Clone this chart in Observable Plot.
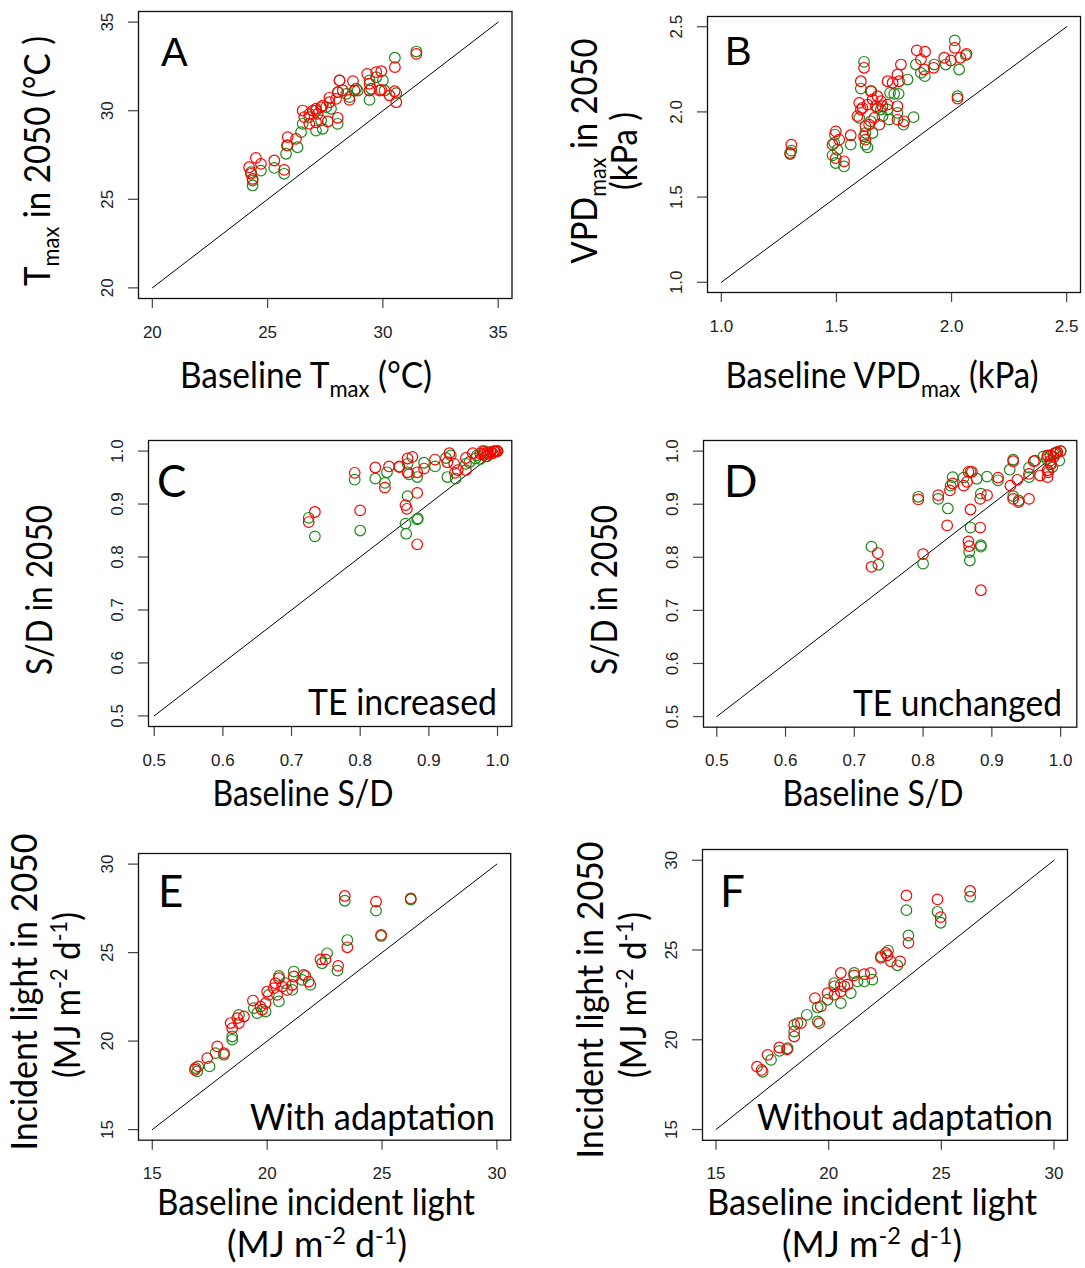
<!DOCTYPE html>
<html><head><meta charset="utf-8">
<script src="https://cdn.jsdelivr.net/npm/d3@7"></script>
<script src="https://cdn.jsdelivr.net/npm/@observablehq/plot@0.6"></script>
<style>
html,body{margin:0;padding:0;background:#fff;}
#root{position:relative;width:1085px;height:1268px;overflow:hidden;background:#fff;}
#root svg{position:absolute;}
</style></head><body><div id="root"></div>
<script>
// ---------- DATA ----------
// Panel A: Tmax (baseline, 2050)
const aTicks = [20, 25, 30, 35];
const aDiag = [20, 35];
const aGreen = [[31.45,33.34],[30.52,32.99],[29.42,31.71],[30.00,31.71],[29.49,31.24],[29.42,30.61],[30.07,31.14],[30.58,30.99],[28.91,31.14],[28.55,30.77],[28.12,31.71],[28.04,31.05],[27.75,30.11],[27.32,29.45],[27.10,28.88],[27.39,28.98],[26.52,29.26],[26.45,28.79],[28.04,29.26],[26.30,27.94],[25.80,27.57],[25.87,28.04],[24.71,26.62],[24.28,26.53],[24.35,26.06],[24.35,25.78],[25.29,26.77],[25.72,26.44],[26.81,29.64],[28.84,31.24],[29.71,31.89],[27.10,30.01],[27.54,30.20],[28.41,30.95]];
const aRed = [[31.45,33.21],[30.52,32.46],[29.32,32.08],[29.71,32.18],[29.93,32.23],[29.42,31.52],[29.93,31.18],[28.70,31.67],[28.77,31.14],[28.55,30.61],[28.12,31.71],[28.06,31.05],[27.97,30.67],[27.68,30.73],[27.39,30.29],[27.10,30.11],[26.96,30.01],[27.17,29.82],[26.81,29.82],[26.52,30.01],[26.59,29.64],[26.81,29.26],[27.10,29.35],[27.61,29.39],[28.04,29.60],[25.87,28.51],[25.84,28.04],[24.49,27.34],[24.71,27.00],[24.20,26.81],[24.28,26.44],[24.35,26.15],[25.29,27.19],[25.72,26.66],[26.23,28.41],[30.51,31.10],[30.29,30.86],[30.58,30.48],[29.86,31.14],[29.42,31.14],[27.68,30.48],[27.32,30.20],[28.26,31.14]];

// Panel B: VPDmax (baseline, 2050)
const bTicks = [1.0, 1.5, 2.0, 2.5];
const bDiag = [1.0, 2.5];
const bGreen = [[1.304,1.773],[1.299,1.753],[1.493,1.867],[1.490,1.818],[1.504,1.778],[1.483,1.745],[1.497,1.700],[1.533,1.680],[1.562,1.808],[1.620,2.294],[1.606,2.137],[1.599,1.965],[1.626,1.808],[1.635,1.792],[1.626,1.876],[1.652,2.122],[1.657,1.876],[1.693,2.014],[1.722,2.014],[1.729,1.955],[1.733,2.112],[1.751,2.106],[1.770,2.106],[1.765,1.994],[1.791,1.925],[1.835,1.969],[1.809,2.190],[1.845,2.278],[1.867,2.229],[1.884,2.210],[1.925,2.278],[1.975,2.278],[2.014,2.420],[2.033,2.249],[2.026,2.092],[2.062,2.333],[1.678,2.024],[1.649,1.945],[1.700,1.975]];
const bRed = [[1.304,1.808],[1.299,1.759],[1.483,1.808],[1.497,1.886],[1.512,1.837],[1.497,1.729],[1.533,1.710],[1.562,1.863],[1.606,2.180],[1.620,2.259],[1.599,2.053],[1.606,2.014],[1.626,1.916],[1.620,1.857],[1.626,1.837],[1.649,2.122],[1.657,2.073],[1.678,2.092],[1.693,2.063],[1.671,2.033],[1.642,1.925],[1.664,1.965],[1.686,1.925],[1.722,2.043],[1.722,2.180],[1.744,2.171],[1.765,2.220],[1.772,2.180],[1.765,2.033],[1.765,1.955],[1.794,1.945],[1.780,2.278],[1.849,2.361],[1.885,2.353],[1.867,2.308],[1.881,2.249],[1.922,2.259],[1.968,2.318],[1.997,2.302],[2.014,2.376],[2.038,2.318],[2.065,2.341],[2.026,2.078],[1.635,2.043],[1.700,2.033],[1.591,1.975],[1.613,2.024]];

// Panel C: S/D, TE increased
const sdTicks = [0.5, 0.6, 0.7, 0.8, 0.9, 1.0];
const sdDiag = [0.5, 1.0];
const cGreen = [[0.725,0.874],[0.734,0.839],[0.792,0.946],[0.800,0.850],[0.822,0.948],[0.836,0.940],[0.839,0.960],[0.857,0.971],[0.869,0.915],[0.866,0.863],[0.867,0.844],[0.883,0.871],[0.884,0.873],[0.883,0.951],[0.893,0.978],[0.909,0.971],[0.925,0.987],[0.932,0.992],[0.927,0.951],[0.939,0.948],[0.954,0.976],[0.959,0.979],[0.968,0.986],[0.981,1.000],[0.869,0.976],[0.871,0.956],[0.970,0.992],[0.980,0.996],[0.990,0.998],[0.995,0.999],[1.000,1.000],[0.985,0.990],[0.975,0.985]];
const cRed = [[0.734,0.885],[0.725,0.866],[0.792,0.959],[0.800,0.888],[0.822,0.969],[0.836,0.931],[0.842,0.971],[0.857,0.970],[0.869,0.986],[0.876,0.989],[0.866,0.898],[0.868,0.891],[0.883,0.921],[0.883,0.824],[0.883,0.960],[0.893,0.967],[0.909,0.984],[0.930,0.996],[0.927,0.979],[0.937,0.976],[0.938,0.959],[0.942,0.964],[0.954,0.987],[0.964,0.996],[0.978,1.000],[0.869,0.960],[0.954,0.964],[0.975,0.995],[0.980,0.993],[0.985,0.997],[0.988,0.995],[0.990,0.998],[0.993,0.996],[0.995,1.000],[0.997,0.999],[0.999,1.000],[1.000,1.000],[0.983,0.990]];

// Panel D: S/D, TE unchanged
const dGreen = [[0.725,0.820],[0.735,0.786],[0.800,0.788],[0.793,0.914],[0.822,0.910],[0.836,0.892],[0.840,0.935],[0.843,0.951],[0.859,0.950],[0.869,0.961],[0.878,0.948],[0.869,0.856],[0.867,0.810],[0.868,0.794],[0.884,0.823],[0.884,0.820],[0.884,0.920],[0.893,0.952],[0.909,0.945],[0.926,0.965],[0.931,0.984],[0.931,0.915],[0.939,0.907],[0.954,0.969],[0.954,0.951],[0.963,0.982],[0.981,0.990],[0.985,0.976],[0.993,0.995],[0.998,0.982],[1.000,1.000],[0.975,0.990],[0.990,0.995],[0.995,0.998],[0.980,0.985],[0.988,0.970]];
const dRed = [[0.725,0.782],[0.734,0.808],[0.800,0.806],[0.793,0.909],[0.822,0.917],[0.835,0.860],[0.839,0.926],[0.843,0.939],[0.859,0.935],[0.864,0.942],[0.866,0.961],[0.871,0.961],[0.869,0.890],[0.866,0.830],[0.867,0.821],[0.883,0.910],[0.893,0.917],[0.883,0.856],[0.884,0.738],[0.909,0.950],[0.931,0.981],[0.927,0.935],[0.931,0.910],[0.937,0.946],[0.939,0.904],[0.954,0.910],[0.961,0.981],[0.970,0.954],[0.981,0.951],[0.981,0.964],[0.985,0.982],[0.981,0.992],[0.995,0.998],[1.000,1.000],[0.990,0.989],[0.954,0.957],[0.985,0.992],[0.993,0.997],[0.982,0.960],[0.986,0.975]];

// Panel E: incident light, with adaptation
const lightTicks = [15, 20, 25, 30];
const lightDiag = [15, 30];
const eGreen = [[23.38,27.93],[24.74,27.37],[26.25,28.00],[24.96,25.94],[23.49,25.71],[22.61,24.96],[22.39,24.40],[23.06,23.98],[21.88,23.18],[21.67,23.68],[21.16,23.93],[20.51,23.68],[20.51,22.24],[20.07,22.61],[19.93,21.67],[19.57,21.58],[19.42,21.86],[18.77,21.48],[18.48,20.08],[18.48,20.26],[17.75,19.32],[18.12,19.23],[17.49,18.57],[16.96,18.29],[16.88,18.48],[21.09,22.89],[20.80,23.27],[21.52,23.46]];
const eRed = [[23.38,28.20],[24.74,27.88],[26.25,28.06],[24.96,26.00],[23.49,25.30],[22.32,24.62],[22.54,24.62],[23.09,24.25],[21.59,23.74],[21.16,23.65],[20.51,23.55],[20.65,23.08],[20.29,22.99],[20.00,22.80],[20.87,22.89],[20.43,22.61],[19.38,22.29],[19.71,21.95],[19.93,22.14],[18.99,21.39],[18.70,21.30],[18.41,21.02],[18.48,20.73],[17.83,19.70],[17.39,19.04],[17.00,18.57],[16.86,18.38],[18.12,19.32],[21.09,23.17],[21.81,23.36],[20.36,23.27],[19.78,21.77],[18.77,21.02]];

// Panel F: incident light, without adaptation
const fGreen = [[23.45,27.22],[24.83,27.13],[26.28,27.97],[24.97,26.52],[23.54,25.81],[22.64,24.97],[22.32,24.65],[23.05,24.15],[21.94,23.35],[21.58,23.25],[21.13,23.72],[20.54,23.07],[20.54,22.04],[20.98,22.60],[20.25,23.16],[19.95,22.23],[19.51,21.80],[19.03,21.39],[18.62,20.93],[18.47,20.46],[17.81,19.38],[18.18,19.53],[17.44,18.88],[17.07,18.22],[19.51,21.02],[21.28,23.25]];
const fRed = [[23.45,28.04],[24.83,27.82],[26.28,28.29],[24.97,26.83],[23.54,25.40],[22.32,24.56],[22.54,24.84],[22.76,24.37],[23.17,24.37],[21.87,23.72],[21.58,23.66],[21.13,23.59],[20.54,23.72],[20.84,23.07],[20.54,22.70],[20.25,22.98],[19.95,22.60],[19.39,22.32],[19.65,21.86],[19.58,20.93],[18.77,20.93],[18.47,20.83],[18.47,20.18],[17.81,19.57],[17.29,19.16],[16.82,18.50],[17.02,18.32],[18.15,19.47],[20.69,22.98],[20.25,22.51],[22.61,24.71]];

// ---------- DRAW ----------
const GREEN = "#1a8a1a", RED = "#ff0000";
const root = document.getElementById("root");
const tickFont = "'Liberation Sans', Arial, sans-serif";

function panel(o) {
  const mL = 70, mR = 12, mT = 12, mB = 60;
  const W = o.right - o.left, H = o.bottom - o.top;
  const fmt = o.fmt || (d => String(d));
  const chart = Plot.plot({
    width: W + mL + mR, height: H + mT + mB,
    marginLeft: mL, marginRight: mR, marginTop: mT, marginBottom: mB,
    x: {domain: o.xDomain}, y: {domain: o.yDomain},
    style: {background: "transparent", overflow: "visible", fontFamily: tickFont, fontSize: "17px", color: "#222"},
    marks: [
      Plot.axisX({ticks: o.ticks, tickSize: 10, tickPadding: 17, tickFormat: fmt, fontSize: 17, label: null, stroke: "#444", strokeWidth: 1.2}),
      Plot.axisY({ticks: o.ticks, tickSize: 10, tickPadding: 16, tickRotate: -90, tickFormat: fmt, fontSize: 17, label: null, stroke: "#444", strokeWidth: 1.2}),
      Plot.line(o.diag, {x: d => d, y: d => d, stroke: "#000", strokeWidth: 1}),
      Plot.dot(o.green, {x: d => d[0], y: d => d[1], r: 5.3, stroke: GREEN, strokeWidth: 1.2}),
      Plot.dot(o.red, {x: d => d[0], y: d => d[1], r: 5.3, stroke: RED, strokeWidth: 1.2}),
      Plot.frame({stroke: "#111", strokeWidth: 1.3})
    ]
  });
  chart.querySelectorAll("text").forEach(t => t.setAttribute("font-size", 17));
  chart.style.left = (o.left - mL) + "px";
  chart.style.top = (o.top - mT) + "px";
  root.appendChild(chart);
}

const f1 = d3.format(".1f");
panel({left: 137.5, right: 511, top: 11, bottom: 298, xDomain: [19.4, 35.6], yDomain: [19.4, 35.6], ticks: aTicks, diag: aDiag, green: aGreen, red: aRed});
panel({left: 707, right: 1080, top: 15.5, bottom: 291.5, xDomain: [0.94, 2.56], yDomain: [0.94, 2.56], ticks: bTicks, diag: bDiag, green: bGreen, red: bRed, fmt: f1});
panel({left: 147.7, right: 511, top: 440, bottom: 726, xDomain: [0.4917, 1.0208], yDomain: [0.48, 1.02], ticks: sdTicks, diag: sdDiag, green: cGreen, red: cRed, fmt: f1});
panel({left: 702.7, right: 1076, top: 440, bottom: 726.7, xDomain: [0.4807, 1.0235], yDomain: [0.48, 1.02], ticks: sdTicks, diag: sdDiag, green: dGreen, red: dRed, fmt: f1});
panel({left: 138.3, right: 510.5, top: 853.3, bottom: 1140, xDomain: [14.4, 30.6], yDomain: [14.4, 30.6], ticks: lightTicks, diag: lightDiag, green: eGreen, red: eRed});
panel({left: 701.7, right: 1066.7, top: 848.5, bottom: 1139.3, xDomain: [14.4, 30.6], yDomain: [14.4, 30.6], ticks: lightTicks, diag: lightDiag, green: fGreen, red: fRed});

// ---------- TEXT OVERLAY ----------
const svg = d3.select(root).append("svg").attr("width", 1085).attr("height", 1268)
  .style("left", "0px").style("top", "0px").style("pointer-events", "none");
const LABEL = "Lato, 'Noto Sans', sans-serif";

function label(x, y, parts, o = {}) {
  const size = o.size || 36;
  const g = svg.append("g").attr("transform", `translate(${x},${y})` + (o.rotate ? ` rotate(${o.rotate})` : ""));
  const t = g.append("text").attr("x", 0).attr("y", 0)
    .attr("text-anchor", o.anchor || "middle")
    .attr("font-family", o.family || LABEL).attr("font-size", size).attr("fill", "#000");
  if (o.length) t.attr("textLength", o.length).attr("lengthAdjust", "spacingAndGlyphs");
  let shift = 0;
  for (const p of parts) {
    const [txt, kind] = Array.isArray(p) ? p : [p, "n"];
    const target = kind === "sub" ? 0.24 * size : kind === "sup" ? -0.36 * size : 0;
    const ts = t.append("tspan").text(txt).attr("dy", target - shift);
    if (kind !== "n") ts.attr("font-size", size * 0.66);
    shift = target;
  }
}

// panel letters
label(161, 66, ["A"], {anchor: "start", family: tickFont, size: 40});
label(725, 65, ["B"], {anchor: "start", family: tickFont, size: 40});
label(157, 497, ["C"], {anchor: "start", size: 44});
label(724, 497, ["D"], {anchor: "start", size: 44});
label(158, 907, ["E"], {anchor: "start", size: 44});
label(720, 907, ["F"], {anchor: "start", size: 44});

// corner notes
label(497, 715, ["TE increased"], {anchor: "end", length: 189});
label(1062, 716, ["TE unchanged"], {anchor: "end", length: 209});
label(495, 1130, ["With adaptation"], {anchor: "end", length: 245});
label(1053, 1130, ["Without adaptation"], {anchor: "end", length: 296});

// x-axis titles
label(306, 388, ["Baseline T", ["max", "sub"], " (°C)"], {length: 252});
label(882, 388, ["Baseline VPD", ["max", "sub"], " (kPa)"], {length: 313});
label(303, 806, ["Baseline S/D"], {length: 181});
label(873, 806, ["Baseline S/D"], {length: 181});
label(316, 1215, ["Baseline incident light"], {length: 318});
label(317, 1257, ["(MJ m", ["-2", "sup"], " d", ["-1", "sup"], ")"], {length: 180});
label(872, 1215, ["Baseline incident light"], {length: 330});
label(872, 1257, ["(MJ m", ["-2", "sup"], " d", ["-1", "sup"], ")"], {length: 180});

// y-axis titles (rotated)
label(50, 161, ["T", ["max", "sub"], " in 2050 (°C )"], {rotate: -90, length: 250});
label(597, 151, ["VPD", ["max", "sub"], " in 2050"], {rotate: -90, length: 225});
label(637, 151, ["(kPa )"], {rotate: -90, length: 78});
label(52, 590, ["S/D in 2050"], {rotate: -90, length: 170});
label(617, 590, ["S/D in 2050"], {rotate: -90, length: 170});
label(37, 992, ["Incident light in 2050"], {rotate: -90, length: 317});
label(80, 995, ["(MJ m", ["-2", "sup"], " d", ["-1", "sup"], ")"], {rotate: -90, length: 166});
label(603, 1000, ["Incident light in 2050"], {rotate: -90, length: 317});
label(646, 995, ["(MJ m", ["-2", "sup"], " d", ["-1", "sup"], ")"], {rotate: -90, length: 166});
</script></body></html>
